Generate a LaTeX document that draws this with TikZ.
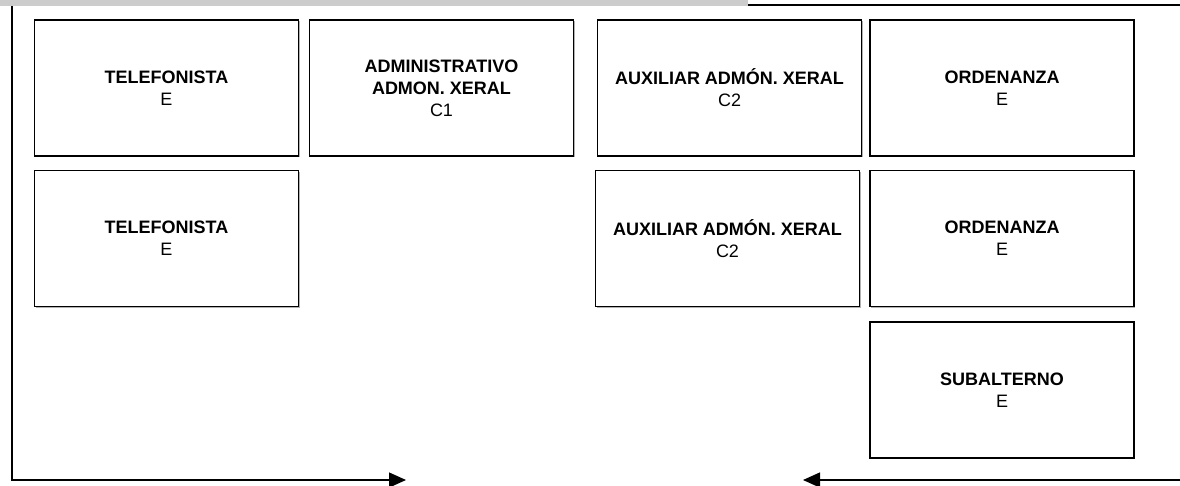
\documentclass[tikz,border=0pt]{standalone}
\usepackage{fontspec}
\setmainfont{Liberation Sans}
\usetikzlibrary{shadows,arrows.meta}
\begin{document}
\begin{tikzpicture}[x=1pt,y=-1pt,
  post/.style={draw=black, line width=1.5pt, fill=white, minimum width=264pt, minimum height=136pt,
    inner sep=0pt, align=center, font=\fontsize{18}{22}\selectfont,
    drop shadow={shadow xshift=1.4pt, shadow yshift=-1.4pt, opacity=1, fill=black!30}},
  conn/.style={draw=black, line width=1.3pt},
  tipr/.style={-{Triangle[length=17pt,width=15pt]}}]
\useasboundingbox (0,0) rectangle (1180,486);
% top band
\fill[black!20] (0,0) rectangle (748,6);
\coordinate (T0) at (748,5);
\coordinate (T1) at (1180,5);
\draw[conn] (T0) -- (T1);
% boxes
\node[post] (a1) at (166.5,88) {\textbf{TELEFONISTA}\\E};
\node[post] (a2) at (441.5,88) {\textbf{ADMINISTRATIVO}\\\textbf{ADMON. XERAL}\\C1};
\node[post] (a3) at (729.5,88) {\textbf{AUXILIAR ADMÓN. XERAL}\\C2};
\node[post] (a4) at (1002,88) {\textbf{ORDENANZA}\\E};
\node[post] (b1) at (166.5,238.5) {\textbf{TELEFONISTA}\\E};
\node[post] (b3) at (727.5,238.5) {\textbf{AUXILIAR ADMÓN. XERAL}\\C2};
\node[post] (b4) at (1002,238.5) {\textbf{ORDENANZA}\\E};
\node[post] (c4) at (1002,390) {\textbf{SUBALTERNO}\\E};
% connectors
\coordinate (L0) at (12,6);
\coordinate (L1) at (12,480);
\coordinate (L2) at (406,480);
\draw[conn,tipr] (L0) -- (L1) -- (L2);
\coordinate (R0) at (1180,480);
\coordinate (R1) at (803,480);
\draw[conn,tipr] (R0) -- (R1);
\end{tikzpicture}
\end{document}
